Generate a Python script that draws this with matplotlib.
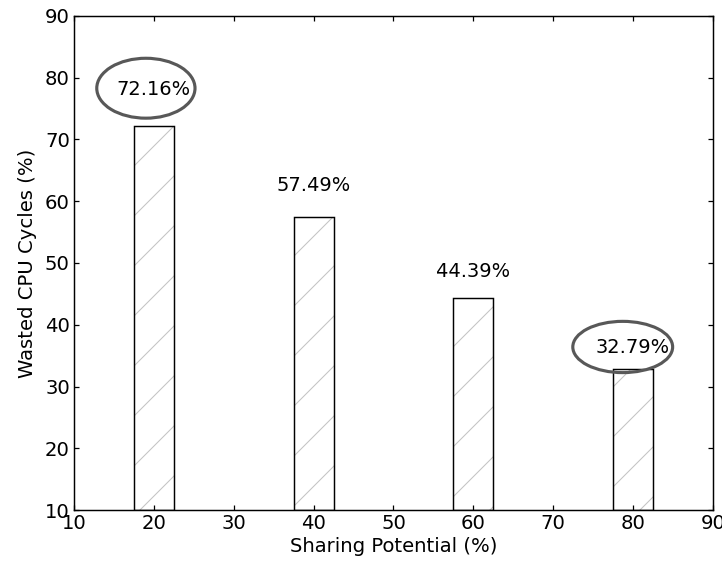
import matplotlib
matplotlib.use("Agg")
import matplotlib.pyplot as plt
from matplotlib.patches import Ellipse

# sharing potential (%) vs wasted cpu cycles (%)
sharing = [20, 40, 60, 80]
wasted = [72.16, 57.49, 44.39, 32.79]
labels = ["72.16%", "57.49%", "44.39%", "32.79%"]

plt.rcParams["hatch.linewidth"] = 0.5
plt.rcParams["hatch.color"] = "#c4c4c4"
plt.rcParams["xtick.direction"] = "in"
plt.rcParams["ytick.direction"] = "in"
plt.rcParams["xtick.top"] = True
plt.rcParams["ytick.right"] = True

fig = plt.figure(figsize=(722 / 150, 564 / 150), dpi=150)
ax = fig.add_axes([0.1025, 0.0957, 0.885, 0.876])

# hatch first, then the black outline on top
ax.bar(sharing, [w - 10 for w in wasted], width=5, bottom=10, color="white",
       hatch="/", linewidth=0)
ax.bar(sharing, [w - 10 for w in wasted], width=5, bottom=10, fill=False,
       edgecolor="black", linewidth=0.7)

for x, w, t in zip(sharing, wasted, labels):
    ax.text(x, w * 1.06, t, ha="center", va="bottom", fontsize=9.3)

# highlight first and last bars
ax.add_patch(Ellipse((19.0, 78.3), 12.3, 9.7, fill=False, edgecolor="#585858", lw=1.5))
ax.add_patch(Ellipse((78.7, 36.4), 12.5, 8.3, fill=False, edgecolor="#585858", lw=1.5))

ax.set_xlim(10, 90)
ax.set_ylim(10, 90)
ax.set_xticks(range(10, 91, 10))
ax.set_yticks(range(10, 91, 10))
ax.tick_params(labelsize=9.4, length=2.4, width=0.6, pad=2)
for s in ax.spines.values():
    s.set_linewidth(0.7)
ax.set_xlabel("Sharing Potential (%)", fontsize=9.4, labelpad=2)
ax.set_ylabel("Wasted CPU Cycles (%)", fontsize=9.4, labelpad=4)

fig.savefig("out.png", dpi=150)
